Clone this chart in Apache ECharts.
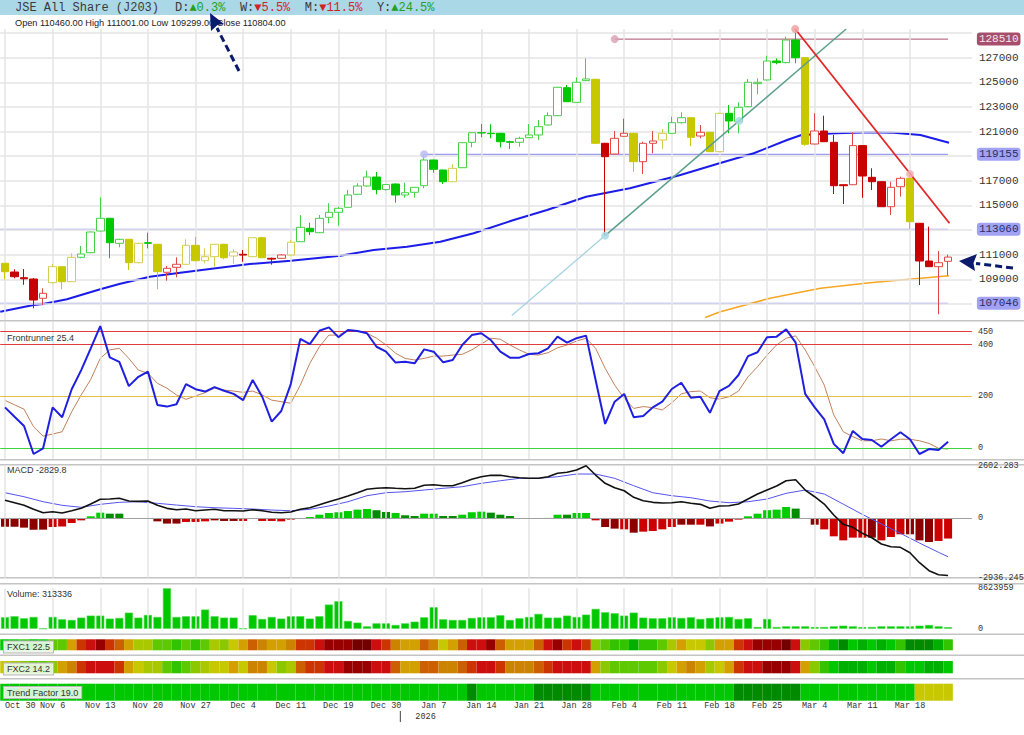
<!DOCTYPE html>
<html><head><meta charset="utf-8">
<script src="https://cdn.jsdelivr.net/npm/echarts@6/dist/echarts.min.js"></script>
<style>html,body{margin:0;padding:0;background:#fff}#c{width:1024px;height:735px}</style>
</head><body><div id="c"></div>
<script>
// ---------------- DATA ----------------
const dates = ["Oct 30","Oct 31","Nov 3","Nov 4","Nov 5","Nov 6","Nov 7","Nov 10","Nov 11","Nov 12",
"Nov 13","Nov 14","Nov 17","Nov 18","Nov 19","Nov 20","Nov 21","Nov 24","Nov 25","Nov 26",
"Nov 27","Nov 28","Dec 1","Dec 2","Dec 3","Dec 4","Dec 5","Dec 8","Dec 9","Dec 10",
"Dec 11","Dec 12","Dec 15","Dec 17","Dec 18","Dec 19","Dec 22","Dec 23","Dec 24","Dec 29",
"Dec 30","Dec 31","Jan 2","Jan 5","Jan 6","Jan 7","Jan 8","Jan 9","Jan 12","Jan 13",
"Jan 14","Jan 15","Jan 16","Jan 19","Jan 20","Jan 21","Jan 22","Jan 23","Jan 26","Jan 27",
"Jan 28","Jan 29","Jan 30","Feb 2","Feb 3","Feb 4","Feb 5","Feb 6","Feb 9","Feb 10",
"Feb 11","Feb 12","Feb 13","Feb 16","Feb 17","Feb 18","Feb 19","Feb 20","Feb 23","Feb 24",
"Feb 25","Feb 26","Feb 27","Mar 2","Mar 3","Mar 4","Mar 5","Mar 6","Mar 9","Mar 10",
"Mar 11","Mar 12","Mar 13","Mar 16","Mar 17","Mar 18","Mar 19","Mar 20","Mar 23","Mar 24"];

const open = [110300,109593,109130,109024,107457,108724,110024,108805,110787,111161,
112923,113955,111924,112249,110348,111973,111843,109569,109975,110219,
111762,110511,110836,111843,110893,111031,110836,112379,110706,110706,
110974,112054,113143,112785,114036,114442,114849,115905,116579,117309,
116286,116741,115848,116067,116603,118691,117878,116928,118065,120128,
120908,120860,120860,120177,120128,120502,120722,121534,122290,124564,
123378,125138,125246,120047,119177,120616,120860,118553,120047,120316,
120860,121720,122127,120640,120941,119365,122484,121801,123020,124895,
125192,126733,126600,128437,127000,119990,121046,120128,116684,116684,
119859,117285,116928,114897,116522,117204,113549,110486,110024,110460];
const close = [109617,109211,109040,107318,107863,110024,108805,110787,111055,112842,
113955,111973,112249,110348,111924,111924,109617,109893,110219,111762,
110511,110836,111843,110755,111218,110970,112379,110755,110640,110974,
112006,113224,112866,113955,114442,114767,115848,116579,117309,116286,
116692,115848,116034,116473,118691,117935,116928,118016,120096,120908,
120890,120830,120177,120128,120453,120722,121396,122290,124596,123427,
125003,125273,120047,118959,120453,120860,118553,120047,120234,120860,
121720,122127,120535,120941,119365,122484,121859,122971,125003,125003,
126733,126600,128437,127000,119966,121046,120177,116603,116603,119859,
117391,116928,114897,116473,117204,113679,110486,110024,110349,110804];
const high = [110320,109812,109837,109100,108269,110243,110060,111112,111705,112880,
115661,113990,112290,112280,111960,112785,111880,110080,110787,112249,
112460,111518,111880,111880,111437,111380,112400,112450,110760,111050,
112192,114223,113598,114223,115174,114900,116254,116798,117829,117715,
116720,116780,116847,116500,119155,118720,117900,118366,120130,120940,
121615,121590,120890,120250,120583,121615,121940,122565,124630,124786,
125409,126952,125280,120080,121046,122047,120890,120177,121046,121210,
122208,122565,122160,121534,120970,122520,123158,123378,125271,125330,
127163,126952,128706,129330,127030,122484,122290,120722,116720,120940,
119890,118016,116950,116928,117335,117610,113580,113273,111299,111001];
const low = [109000,109081,108553,106645,106912,108675,108188,108780,110706,111130,
112900,110706,111600,109755,110300,111518,108188,108886,109162,110200,
110480,110300,110024,110625,110243,110430,110800,110720,110194,110680,
110950,112030,112598,112760,113549,113354,114820,115880,116530,115905,
116200,115222,115628,115628,116392,117659,116741,116900,118040,119722,
120535,120453,119722,119585,119770,120480,120316,121500,122260,123400,
123350,125100,120020,112550,119150,120590,117740,117553,119235,119585,
120830,121650,119828,120453,119340,119340,120860,120860,122990,124028,
125170,126466,126546,126546,119852,119960,120150,115930,115116,116650,
115628,116254,114870,114223,115710,113086,108537,110000,106157,109299];
// candle signal class: g = green, y = yellow, r = red
const candleClass = ("yrrrryyygg"+"gggyygyrry"+"yyyyyryyrr"+"yggggggggg"+"gggggggygg"+
  "gggggggggg"+"ggyrrryrry"+"ggyryygggg"+"ggggyrrrrr"+"rrrrryrrrr").split("");

// moving averages: [candle position, price]
const ma50 = [[-0.5,106368],[3,106912],[4,106994],[6.5,107375],[8.6,107863],[10,108188],[12,108618],
  [15.2,109211],[18.4,109536],[21.5,109837],[25.7,110243],[30,110511],[35.2,110917],[38.7,111380],
  [42.2,111648],[45.7,112054],[49.2,112737],[53.4,113817],[56.9,114629],[61,115710],[65.6,116392],
  [70.9,117472],[75,118423],[78.6,119235],[82.1,120315],[83.6,120721],[87.3,120860],[90.8,120941],
  [93.3,120908],[96.1,120721],[99.1,120096]];
const ma200 = [[73.5,105900],[75.1,106368],[80.3,107457],[85.6,108269],[90.8,108724],[96.1,109081],[99.1,109292]];
// drawn trend lines
const tealLow = [[53.2,106058],[63,112550]];
const tealHigh = [[63,112550],[88.3,129330]];
const redTrend = [[82.95,129330],[99.15,113549]];
// horizontal level lines: value and starting candle position
const levelValues = [128510, 119155, 113060, 107046];
const levelStart = [64, 44, -0.5, -0.5];
const markerX = [64, 44, 63, 77.05, 82.95, 95];
const markerY = [128510, 119155, 112550, 121858, 129330, 117553];
const priceTicks = [109000,111000,115000,117000,121000,123000,125000,127000,129000];
const priceGrid = [107000,109000,111000,113000,115000,117000,119000,121000,123000,125000,127000,129000];

const frBlue = [158,122,86,-22,0,158,120,228,302,386,
472,351,334,240,276,296,167,161,170,248,
228,219,236,222,210,186,264,199,103,144,
248,422,402,454,467,429,457,453,444,392,
373,331,334,328,382,373,332,341,399,437,
444,418,373,350,350,364,367,386,431,408,
425,435,264,94,180,210,120,125,158,180,
229,253,195,199,137,221,241,283,356,371,
429,431,459,408,210,158,112,17,-19,67,
36,32,6,35,62,35,-22,-3,-7,25];
const frBrown = [185,168,151,83,47,55,64,141,206,266,
347,380,386,347,302,290,251,232,206,189,
202,215,232,225,221,216,221,206,186,180,
174,244,328,392,437,437,454,453,444,425,
399,367,347,341,347,356,356,360,363,380,
403,425,421,399,380,363,360,369,388,399,
414,425,386,309,244,193,154,161,157,148,
176,210,219,221,195,190,199,221,276,315,
360,399,425,434,380,315,244,129,64,45,
29,29,36,29,35,35,29,19,0,-3];
const frLevels = [450, 400, 200, 0];

const macd = [890,772,643,445,277,326,262,376,494,707,
940,954,989,855,840,855,643,494,425,460,
376,410,445,376,376,361,425,376,297,277,
312,445,524,673,821,954,1103,1266,1434,1484,
1513,1484,1464,1484,1632,1662,1612,1612,1760,1929,
2057,2126,2126,2057,2008,1978,1978,2057,2225,2275,
2389,2600,2141,1731,1513,1365,1038,870,791,757,
772,821,742,692,494,608,623,707,954,1202,
1399,1597,1859,1909,1399,1068,707,163,-297,-445,
-742,-959,-1271,-1404,-1434,-1701,-2196,-2591,-2789,-2830];
const macdSignal = [[0,1266],[2,1068],[4,821],[6,643],[8,544],[10,692],[12,791],[14,821],[16,742],[18,658],
[20,574],[22,524],[24,494],[26,460],[28,410],[30,376],[32,445],[34,608],[36,821],[38,1118],[40,1266],
[42,1315],[44,1399],[46,1484],[48,1563],[50,1731],[52,1859],[54,1978],[56,1978],[58,2057],[60,2191],
[62,2191],[64,1978],[66,1612],[68,1266],[70,1118],[72,1019],[74,855],[76,772],[78,821],[80,954],
[82,1236],[84,1399],[86,1202],[88,700],[90,196],[92,-282],[94,-742],[96,-1222],[98,-1681],[99,-1899]];
const macdHist = [-415,-415,-460,-560,-560,-430,-400,-230,-100,100,
280,230,230,10,10,5,-150,-260,-260,-180,
-180,-150,-100,-130,-130,-130,-20,-130,-130,-150,
-65,10,65,180,265,300,360,430,460,400,
315,265,150,115,230,230,115,115,180,300,
330,280,180,115,10,5,5,20,180,180,
265,265,-100,-430,-510,-545,-710,-660,-625,-545,
-430,-315,-315,-315,-400,-260,-165,-65,100,230,
400,430,560,480,10,-315,-545,-890,-1090,-955,
-955,-955,-1090,-925,-790,-790,-1090,-1170,-1120,-1000];
const histDark = [1,1,1,1,1,0,0,0,0,0, 0,1,1,0,0,0,1,1,1,0, 0,0,1,1,1,0,0,0,0,0,
0,0,0,0,0,0,0,0,0,1, 1,0,1,1,0,0,1,1,0,0, 0,1,1,1,0,0,0,0,0,1, 0,0,0,1,1,0,1,0,0,0,
0,1,1,0,1,0,0,0,0,0, 0,0,0,1,0,1,0,0,0,0, 0,1,0,0,0,1,1,1,0,0];
const macdRange = [-2936.245, 2602.283];

const volume = [2430000,2650000,2220000,2500000,0,2500000,2000000,1860000,2360000,2790000,
2790000,2150000,2290000,3430000,2360000,2930000,2500000,8623959,2500000,2650000,
2650000,4080000,2650000,2360000,2360000,0,2860000,2070000,2500000,2150000,
2650000,2650000,2150000,2650000,5150000,5860000,1650000,1290000,500000,1140000,
1140000,790000,1140000,1500000,2430000,4580000,2000000,1860000,1860000,2290000,
2430000,2430000,2860000,1860000,2220000,2500000,3150000,2360000,2360000,2790000,
2500000,3000000,4220000,3500000,3290000,2790000,3430000,2360000,2220000,2220000,
2430000,2290000,2430000,2070000,2290000,2430000,2500000,2070000,2220000,360000,
2070000,360000,500000,500000,500000,360000,360000,500000,640000,500000,
360000,360000,500000,500000,500000,500000,640000,790000,500000,313336];

// heat strip levels (0 = strong green ... 14 = deep red)
const fxc1 = [2,2,3,2,2,4,4,8,11,12, 13,11,10,8,6,6,4,4,3,4, 3,4,6,5,7,8,10,9,8,8,
9,11,11,12,13,13,13,14,14,12, 11,9,8,8,10,9,7,8,10,12, 12,13,10,8,8,8,10,12,13,11,
12,11,5,4,3,3,1,3,3,4, 6,8,7,7,5,8,8,11,12,13, 13,13,14,12,5,4,3,1,0,2, 1,2,1,2,3,0,0,0,1,3];
const fxc2 = [7,6,5,4,4,5,8,9,11,12, 12,12,11,8,7,6,6,4,3,4, 5,6,7,7,8,7,9,9,7,5,
6,10,11,11,12,12,13,13,13,12, 12,10,8,8,10,10,9,9,10,11, 12,12,11,9,9,9,10,11,12,12,
12,12,8,5,4,4,4,4,4,5, 7,8,9,8,6,7,8,11,12,12, 13,13,13,12,8,5,3,2,1,1, 1,2,1,1,3,2,2,1,1,2];
const trendF = [2,2,2,2,2,2,2,2,2,2, 2,2,2,2,2,2,2,2,2,2, 2,2,2,2,2,2,2,2,2,2,
2,2,2,2,2,2,2,2,2,2, 2,2,2,2,2,2,2,2,2,0, 2,2,2,2,2,2,0,0,0,0,
0,0,2,2,2,2,2,2,2,2, 2,2,2,2,2,2,2,0,0,0, 0,0,0,0,2,2,2,2,2,2, 2,2,2,2,2,2,7,7,7,7];

const title = "JSE All Share (J203)";
const changes = [["D:","▲0.3%",true],["W:","▼5.5%",false],["M:","▼11.5%",false],["Y:","▲24.5%",true]];
const labels = {fr:"Frontrunner 25.4", macd:"MACD -2829.8", fxc1:"FXC1 22.5", fxc2:"FXC2 14.2", trend:"Trend Factor 19.0"};

// ---------------- CHART ----------------
const N = dates.length;
const MONO = '"Liberation Mono", "DejaVu Sans Mono", monospace';
const SANS = '"Liberation Sans", Arial, sans-serif';
const palette = ['#008a00','#00b000','#00c800','#33c400','#5ec800','#8cc800','#aac800','#c8c800',
  '#d2a000','#cc8400','#cc6000','#cc3400','#cc0e0e','#980000','#720000'];
const FILL = {g:'#00c800', y:'#c8c800', r:'#c80000'};
const EDGE = {g:'#46d046', y:'#d4cc50', r:'#e04848'};

const L = 0.24, W = 971.65;
const grids = [
  {left:L, width:W, top:29, height:291},
  {left:L, width:W, top:322, height:137},
  {left:L, width:W, top:465.7, height:112},
  {left:L, width:W, top:588.3, height:40.4},
  {left:L, width:W, top:639.3, height:11},
  {left:L, width:W, top:661, height:12.3},
  {left:L, width:W, top:683.7, height:17}
].map(g => Object.assign(g, {containLabel:false, outerBoundsMode:'none'}));
const weekIdx = []; for (let i = 0; i < N; i += 5) weekIdx.push(i);
const vGrid = weekIdx.map(i => ({xAxis: dates[i]}));

const xAxes = grids.map((g, gi) => ({
  type:'category', gridIndex:gi, data:dates, max:101, boundaryGap:true,
  axisLine:{show:false}, axisTick:{show:false}, splitLine:{show:false},
  axisLabel: gi === 6 ? {show:true, interval:4, margin:1, align:'center', alignMinLabel:'left',
     fontFamily:MONO, fontSize:8.5, color:'#333',
     formatter:(v, idx) => idx < N ? v : ''} : {show:false}
}));
xAxes.push({type:'value', gridIndex:0, min:-0.5, max:101.5, show:false});

const special = {}; special[levelValues[0]] = 'm';
for (let k = 1; k < levelValues.length; k++) special[levelValues[k]] = 'b';
const mainLabelVals = priceTicks.concat(levelValues).sort((a,b)=>a-b);

const plainAxis = (gi, min, max, vals, fmt) => ({
  type:'value', gridIndex:gi, position:'right', min, max, scale:true,
  axisLine:{show:false}, axisTick:{show:false}, splitLine:{show:false},
  axisLabel:{customValues:vals, margin:6, fontFamily:MONO, fontSize:8.5, color:'#333', formatter:fmt || (v=>String(v))}
});
const maxVol = Math.max(...volume);
const yAxes = [
  {type:'value', gridIndex:0, position:'right', min:105694, max:129332, scale:true,
   axisLine:{show:false}, axisTick:{show:false}, splitLine:{show:false},
   axisLabel:{customValues:mainLabelVals, margin:5, fontFamily:MONO, fontSize:11, color:'#333',
     formatter: v => `{${special[v] || 'n'}|${v}}`,
     rich:{n:{padding:[1,2], fontFamily:MONO, fontSize:11, color:'#333'},
           m:{backgroundColor:'#a64e6c', color:'#f6e6ee', borderRadius:3, padding:[1,2], fontFamily:MONO, fontSize:11},
           b:{backgroundColor:'#a2a2f4', color:'#2c2c66', borderRadius:3, padding:[1,2], fontFamily:MONO, fontSize:11}}}},
  plainAxis(1, -41.3, 487.6, frLevels.slice().sort((a,b)=>a-b)),
  plainAxis(2, macdRange[0], macdRange[1], [macdRange[0], 0, macdRange[1]], v => v === 0 ? '0' : v.toFixed(3)),
  plainAxis(3, 0, maxVol, [0, maxVol]),
  {type:'value', gridIndex:4, min:0, max:1, show:false},
  {type:'value', gridIndex:5, min:0, max:1, show:false},
  {type:'value', gridIndex:6, min:0, max:1, show:false}
];

const GRIDCOL = '#e4e4e4';
const gridSeries = (gi, extra) => ({
  type:'line', xAxisIndex:gi, yAxisIndex:gi, data:[], z:1, silent:true,
  markLine:{silent:true, symbol:'none', animation:false, label:{show:false},
    lineStyle:{color:GRIDCOL, width:1.5, type:'solid'},
    data: vGrid.concat(extra || [])}
});
const lineS = (xi, yi, data, color, width, z) => ({
  type:'line', xAxisIndex:xi, yAxisIndex:yi, data, showSymbol:false, symbol:'none', silent:true,
  lineStyle:{color, width}, z: z || 4
});

const candleData = dates.map((d, i) => {
  const c = candleClass[i];
  const hollow = close[i] > open[i];
  const fill = hollow ? '#ffffff' : FILL[c];
  const edge = hollow ? EDGE[c] : FILL[c];
  return {value:[open[i], close[i], low[i], high[i]],
    itemStyle:{color:fill, color0:fill, borderColor:edge, borderColor0:edge, borderColorDoji:edge, borderWidth:1}};
});

const series = [];
// main panel grid lines
series.push(gridSeries(0, priceGrid.map(v => ({yAxis:v}))));
// level lines
levelValues.forEach((v, k) => {
  series.push(lineS(7, 0, [[levelStart[k], v], [N - 1, v]], k === 0 ? '#a8506e' : '#9c9cf2', k === 0 ? 1 : 1.3, 3));
});
series.push(lineS(7, 0, ma200, '#f5a623', 1.6, 4));
series.push(lineS(7, 0, ma50, '#1c1ce8', 2, 4));
series.push({type:'candlestick', xAxisIndex:0, yAxisIndex:0, data:candleData, barWidth:8, z:5, silent:true});
series.push(lineS(7, 0, tealLow, '#a6d2e2', 1.3, 6));
series.push(lineS(7, 0, tealHigh, '#5b9f8c', 1.5, 6));
series.push(lineS(7, 0, redTrend, '#e32626', 1.8, 6));
series.push({type:'scatter', xAxisIndex:7, yAxisIndex:0, silent:true, z:7, symbolSize:8,
  data: markerX.map((x, k) => ({value:[x, markerY[k]],
    itemStyle:{color: ['#d9a3b6','#bcbcf2','#a8dbe6','#a8dbe6','#f2a2a2','#f2b0b0'][k], opacity:0.85}}))});

// frontrunner
const frCols = ['#e03c3c','#e03c3c','#e8bd45','#3fd43f'];
series.push(gridSeries(1));
series.push({type:'line', xAxisIndex:1, yAxisIndex:1, data:[], z:2, silent:true,
  markLine:{silent:true, symbol:'none', animation:false, label:{show:false},
    data: frLevels.map((v, k) => ({yAxis:v, lineStyle:{color:frCols[k], width:1, type:'solid'}}))}});
series.push(lineS(1, 1, frBrown, '#c0805a', 1, 4));
series.push(lineS(1, 1, frBlue, '#1f1fe0', 2, 5));

// MACD
series.push(gridSeries(2));
series.push({type:'line', xAxisIndex:2, yAxisIndex:2, data:[], z:2, silent:true,
  markLine:{silent:true, symbol:'none', animation:false, label:{show:false},
    data:[{yAxis:0}], lineStyle:{color:'#a0a0a0', width:1, type:'solid'}}});
series.push({type:'bar', xAxisIndex:2, yAxisIndex:2, silent:true, barWidth:8, z:3,
  data: macdHist.map((v, i) => ({value:v, itemStyle:{color: v >= 0 ? (histDark[i] ? '#008c00' : '#00cc00') : (histDark[i] ? '#8c0000' : '#cc0000')}}))});
series.push(lineS(2, 2, macdSignal, '#5454ee', 1, 4));
series.push(lineS(2, 2, macd, '#111111', 1.6, 5));

// volume
series.push(gridSeries(3));
series.push({type:'bar', xAxisIndex:3, yAxisIndex:3, data:volume, barWidth:8, silent:true, z:3,
  itemStyle:{color:'#00c800', borderColor:'#3cd83c', borderWidth:0.6}});

// heat strips
[fxc1, fxc2, trendF].forEach((arr, k) => {
  series.push({type:'bar', xAxisIndex:4 + k, yAxisIndex:4 + k, silent:true, barWidth:'100%', barCategoryGap:'0%',
    data: arr.map(l => ({value:1, itemStyle:{color:palette[l]}}))});
});

const chart = echarts.init(document.getElementById('c'), null, {renderer:'svg', width:1024, height:735});
chart.setOption({animation:false, backgroundColor:'#ffffff', grid:grids, xAxis:xAxes, yAxis:yAxes, series});

// ---------------- decorations ----------------
const g = [];
[320, 459, 464, 577, 583, 633.5, 654.5, 678].forEach(y => {
  g.push({type:'rect', shape:{x:0, y:y, width:1024, height:1.6}, style:{fill:'#c4c4c4'}, z:-1, silent:true});
});
g.push({type:'rect', shape:{x:0, y:0, width:1024, height:15}, style:{fill:'#aad8e6'}, z:60});
g.push({type:'text', x:15, y:8, z:61, style:{text:title, font:'12px ' + MONO, fill:'#3a3a3a', verticalAlign:'middle'}});
let cx = 175;
changes.forEach(([a, b, up]) => {
  g.push({type:'text', x:cx, y:8, z:61, style:{text:a, font:'12px ' + MONO, fill:'#3a3a3a', verticalAlign:'middle'}});
  g.push({type:'text', x:cx + 14.4, y:8, z:61, style:{text:b, font:'12px ' + MONO, fill: up ? '#23a023' : '#d02424', verticalAlign:'middle'}});
  cx += (a.length + b.length) * 7.2 + 14.5;
});
const last = N - 1;
g.push({type:'text', x:15, y:23, z:61, style:{text:`Open ${open[last].toFixed(2)} High ${high[last].toFixed(2)} Low ${low[last].toFixed(2)} Close ${close[last].toFixed(2)}`,
  font:'9.2px ' + SANS, fill:'#222', verticalAlign:'middle'}});
g.push({type:'text', x:7, y:338, z:61, style:{text:labels.fr, font:'9px ' + SANS, fill:'#333', verticalAlign:'middle'}});
g.push({type:'text', x:7, y:470, z:61, style:{text:labels.macd, font:'9px ' + SANS, fill:'#333', verticalAlign:'middle'}});
g.push({type:'text', x:7, y:594, z:61, style:{text:'Volume: ' + volume[last], font:'9px ' + SANS, fill:'#333', verticalAlign:'middle'}});
[[labels.fxc1, 647], [labels.fxc2, 669], [labels.trend, 692.5]].forEach(([t, y]) => {
  g.push({type:'text', x:4, y:y, z:61, style:{text:t, font:'9px ' + SANS, fill:'#333', verticalAlign:'middle',
    backgroundColor:'rgba(238,250,234,0.88)', borderColor:'#b8b8b8', borderWidth:1, padding:[1,3,1,3]}});
});
// year marker
const yx = chart.convertToPixel({xAxisIndex:7}, 41.5);
g.push({type:'line', shape:{x1:yx, y1:711, x2:yx, y2:722}, style:{stroke:'#444', lineWidth:1}, z:61});
g.push({type:'text', x:yx + 15, y:717, z:61, style:{text:'2026', font:'8.5px ' + MONO, fill:'#333', verticalAlign:'middle'}});
// annotation arrows
const NAVY = '#0b1a6b';
g.push({type:'line', shape:{x1:239, y1:71, x2:217, y2:28}, style:{stroke:NAVY, lineWidth:3, lineDash:[7,4]}, z:70});
g.push({type:'polygon', shape:{points:[[210,13],[224,24],[217.5,25],[211,31]]}, style:{fill:NAVY}, z:70});
g.push({type:'line', shape:{x1:1013, y1:268, x2:976, y2:263.5}, style:{stroke:NAVY, lineWidth:3, lineDash:[7,4]}, z:70});
g.push({type:'polygon', shape:{points:[[959,261],[977,254],[973.5,263],[975,271]]}, style:{fill:NAVY}, z:70});
chart.setOption({graphic:g});
</script></body></html>
